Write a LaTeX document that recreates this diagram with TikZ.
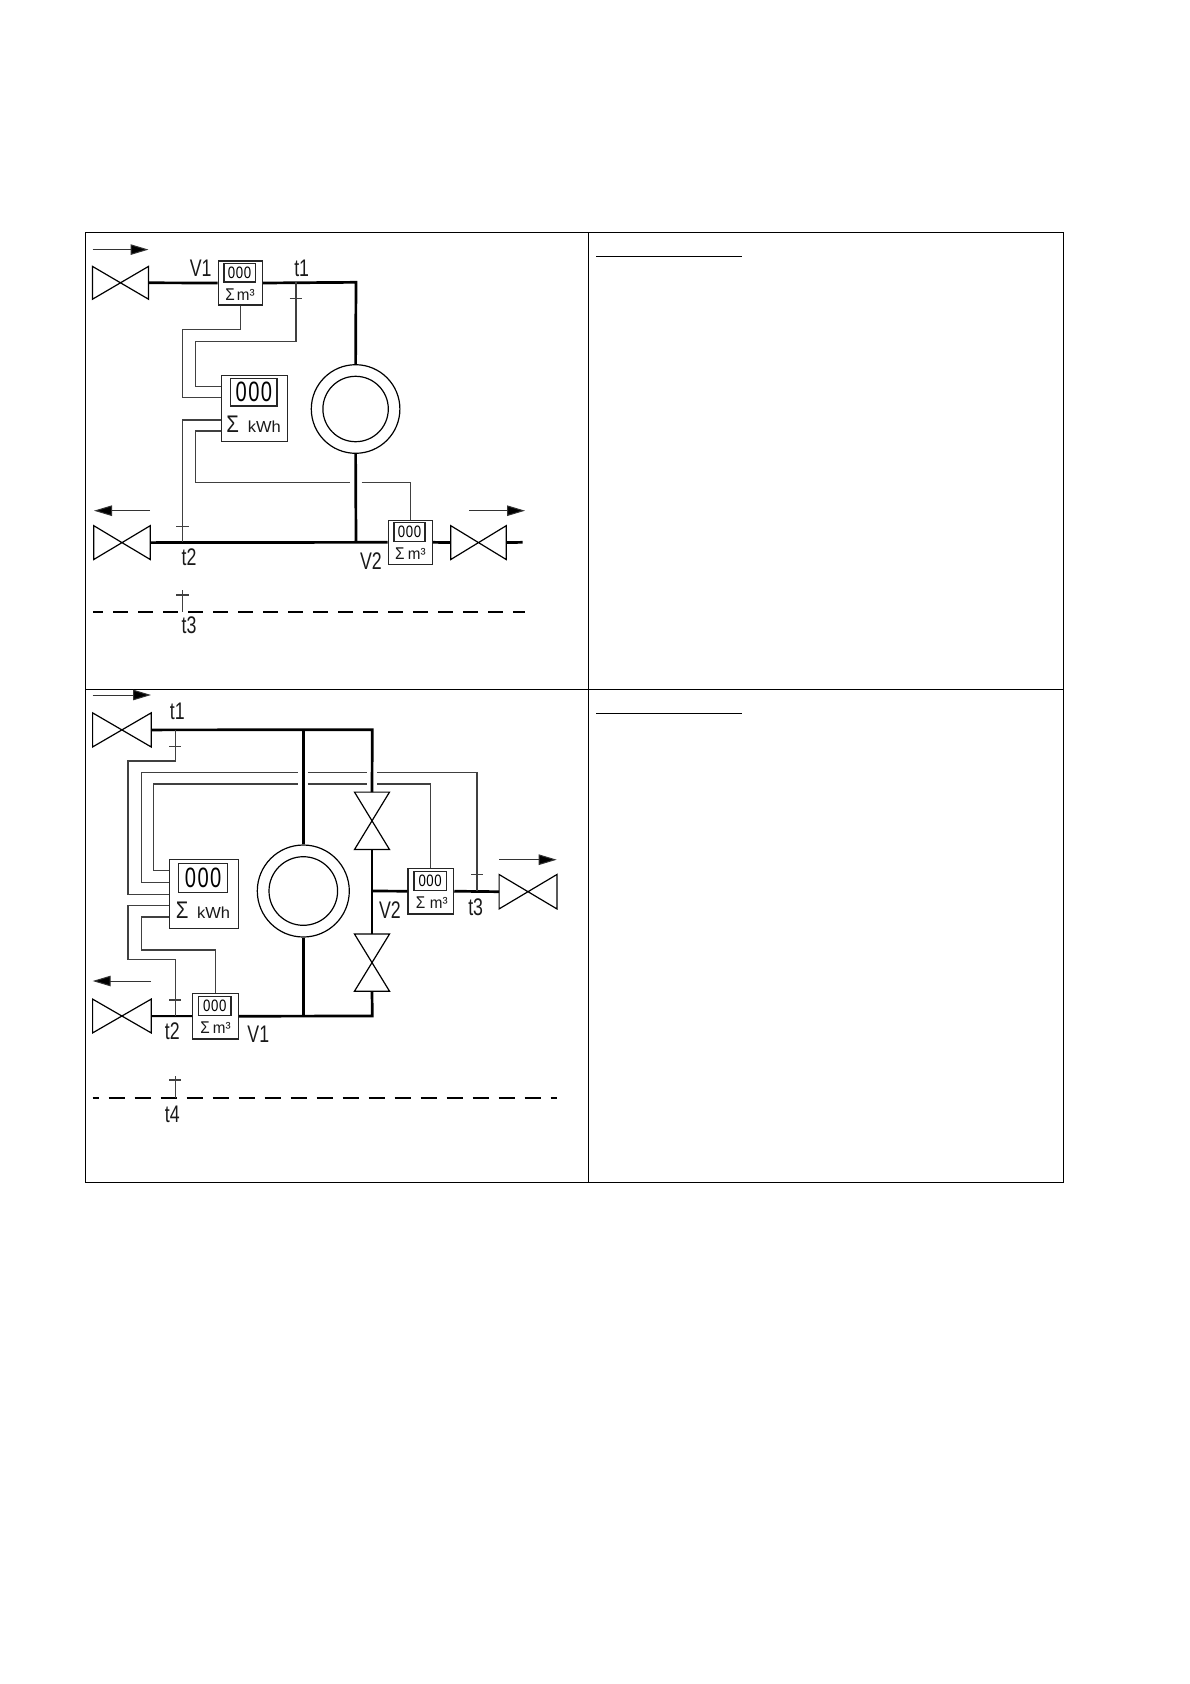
\documentclass[tikz,border=0pt]{standalone}
\usepackage{fontspec}
\setmainfont{Liberation Sans}
\usetikzlibrary{arrows.meta}
\tikzset{
  frame/.style={draw=black,line width=1pt},
  pipe/.style={draw=black,line width=2.7pt},
  pipethin/.style={draw=black,line width=2pt},
  wire/.style={draw=black!75,line width=1.15pt},
  thinbox/.style={draw=black!85,line width=1.2pt,inner sep=0pt,fill=white},
  flow/.style={draw=black!80,line width=1pt,-{Triangle[length=18pt,width=10.5pt,fill=black]}},
  datum/.style={draw=black,line width=1.8pt},
  ring/.style={circle,draw=black,line width=1.2pt,inner sep=0pt},
  lbl/.style={inner sep=0pt,text=black!90},
  valvebody/.style={draw=black,line width=1.2pt,line join=miter}
}
\newcommand{\tagtext}[1]{\fontsize{24}{24}\selectfont\scalebox{.74}[1]{#1}}
\newcommand{\pname}[4]{\node[lbl] (#1) at (#2,#3) {\tagtext{#4}};}
% horizontal valve: name, cx, cy, w, h
\newcommand{\hvalve}[5]{\node[inner sep=0pt,minimum width=#4pt,minimum height=#5pt] (#1) at (#2,#3) {};
  \draw[valvebody] (#1.north west) -- (#1.south east) -- (#1.north east) -- (#1.south west) -- cycle;}
\newcommand{\vvalve}[5]{\node[inner sep=0pt,minimum width=#4pt,minimum height=#5pt] (#1) at (#2,#3) {};
  \draw[valvebody] (#1.north west) -- (#1.south east) -- (#1.south west) -- (#1.north east) -- cycle;}
% small meter: name, cx, cy, w, offset of m3
\newcommand{\meter}[5]{\node[thinbox,minimum width=#4pt,minimum height=#4pt] (#1) at (#2,#3) {};
  \begin{scope}[shift={(#2,#3)}]
  \node[thinbox,minimum width=#4*.71pt,minimum height=#4*.42pt,line width=1.3pt] (#1d) at (-.7,-10.3)
    {\fontsize{16.5}{16.5}\selectfont\scalebox{.8}[1]{0\kern.8pt 0\kern.8pt 0}};
  \node[lbl] (#1s) at (-10.3,11.8) {\fontsize{17}{17}\selectfont\scalebox{.9}[1]{Σ}};
  \node[lbl] (#1u) at (#5,12) {\fontsize{16}{16}\selectfont\scalebox{.95}[1]{m³}};
  \end{scope}}
% energy meter: name, cx, cy, w
\newcommand{\emeter}[4]{\node[thinbox,minimum width=#4pt,minimum height=#4pt] (#1) at (#2,#3) {};
  \begin{scope}[shift={(#2,#3)}]
  \node[thinbox,minimum width=#4*.705pt,minimum height=#4*.42pt] (#1d) at (-.6,-16)
    {\fontsize{28}{28}\selectfont\scalebox{.72}[1]{0\kern2pt 0\kern2pt 0}};
  \node[lbl] (#1s) at (-21.7,16.2) {\fontsize{24}{24}\selectfont\scalebox{.85}[1]{Σ}};
  \node[lbl] (#1u) at (9.8,18.6) {\fontsize{16}{16}\selectfont\scalebox{1.03}[1]{kWh}};
  \end{scope}}
\begin{document}
\begin{tikzpicture}[x=1pt,y=-1pt]
\useasboundingbox (0,0) rectangle (1190,1684);
% table
\coordinate (tl) at (85.5,232);
\coordinate (br) at (1063.3,1182);
\coordinate (vt) at (588,232);
\coordinate (vb) at (588,1182);
\coordinate (hl) at (85.5,689.5);
\coordinate (hr) at (1063.3,689.5);
\draw[frame] (tl) rectangle (br);
\draw[frame] (vt) -- (vb);
\draw[frame] (hl) -- (hr);
\coordinate (ua) at (596,256.3); \coordinate (ub) at (742,256.3);
\coordinate (uc) at (596,713.8); \coordinate (ud) at (742,713.8);
\draw[frame] (ua) -- (ub);
\draw[frame] (uc) -- (ud);

% ---------- upper diagram ----------
\hvalve{va}{120.5}{282.8}{55.6}{32.4}
\hvalve{vb1}{122}{542.6}{56}{33.4}
\hvalve{vc}{478.5}{542.6}{55}{33.4}
\meter{ma}{240.3}{283}{44}{5.4}
\meter{mb}{410.2}{542.3}{44}{6.5}
\emeter{ka}{254.5}{408.3}{65.6}
\node[ring,minimum size=88.6pt] (ca) at (355.6,409) {};
\node[ring,minimum size=65.4pt] (cai) at (355.6,409) {};
\coordinate (ja) at (356,282.3);
\coordinate (jb) at (356,542.3);
\coordinate (ta) at (296,282.3);
\coordinate (tb) at (182.3,542.3);
\coordinate (vcend) at (522.7,542.3);
\draw[pipe] (va.east) -- (ma.west);
\draw[pipe,line join=miter] (ma.east) -- (ja) -- (ca.north);
\draw[pipe] (ca.south) -- (jb);
\draw[pipe] (vb1.east) -- (mb.west);
\draw[pipe] (mb.east) -- (vc.west);
\draw[pipe] (vc.east) -- (vcend);
% wires upper
\draw[wire] (ma.south) |- (182.3,329.7) |- (ka.west |- 0,397.7);
\draw[wire] (ta) |- (195.3,341.7) |- (ka.west |- 0,386.3);
\draw[wire] (ka.west |- 0,420) -| (tb);
\coordinate (gapa) at (350,482.3);
\coordinate (gapb) at (361.7,482.3);
\draw[wire] (ka.west |- 0,431) -| (195.3,482.3) -- (gapa);
\draw[wire] (gapb) -| (mb.north);
\draw[wire] (ta) ++(-6.3,16) -- ++(12.6,0);
\draw[wire] (tb) ++(-6.2,-15.6) -- ++(12.4,0);
% arrows upper
\coordinate (aa) at (92.7,249.6); \coordinate (ab) at (148.5,249.6);
\coordinate (ac) at (150,510.7); \coordinate (ad) at (94,510.7);
\coordinate (ae) at (469.3,510.7); \coordinate (af) at (525,510.7);
\draw[flow] (aa) -- (ab);
\draw[flow] (ac) -- (ad);
\draw[flow] (ae) -- (af);
% ambient upper
\coordinate (da) at (93.3,611.7); \coordinate (db) at (525,611.7);
\coordinate (tc) at (182.3,611.7);
\draw[datum,dash pattern=on 15pt off 10pt,dash phase=5pt] (da) -- (db);
\draw[wire] (tc) -- ++(0,-21.7);
\draw[wire] (tc) ++(-6.2,-16.7) -- ++(12.4,0);
\pname{lva}{200.7}{268.3}{V1}
\pname{lta}{301.7}{268}{t1}
\pname{ltb}{189}{557}{t2}
\pname{lvb}{371}{560.7}{V2}
\pname{ltc}{189}{625.7}{t3}

% ---------- lower diagram ----------
\hvalve{vd}{121.9}{729.9}{58.2}{33.7}
\hvalve{ve}{121.9}{1016}{58.2}{33.4}
\hvalve{vf}{528}{891.7}{57.4}{34}
\vvalve{vg}{372}{820.8}{34.6}{57}
\vvalve{vh}{372}{962.6}{34.6}{56.7}
\meter{mc}{215.5}{1016.2}{45.6}{6.2}
\meter{md}{430.85}{891.2}{45.6}{8}
\emeter{kb}{203.8}{894}{69}
\node[ring,minimum size=92pt] (cb) at (303.3,891) {};
\node[ring,minimum size=68.6pt] (cbi) at (303.3,891) {};
\coordinate (jc) at (303.3,729.7);
\coordinate (jd) at (372.3,729.7);
\coordinate (je) at (303.3,1016);
\coordinate (jf) at (372.3,1016);
\coordinate (jg) at (372.3,891);
\coordinate (te) at (175.3,729.7);
\coordinate (tf) at (175.3,1016);
\coordinate (tg) at (477,891);
\draw[pipe,line join=miter] (vd.east) -- (jd) -- (vg.north);
\draw[pipe] (jc) -- (cb.north);
\draw[pipe] (cb.south) -- (je);
\draw[pipe] (vg.south) -- (vh.north);
\draw[pipe,line join=miter] (vh.south) -- (jf) -- (mc.east);
\draw[pipethin] (ve.east) -- (mc.west);
\draw[pipe] (jg) -- (md.west);
\draw[pipe] (md.east) -- (vf.west);
% wires lower
\draw[wire] (kb.west |- 0,894.3) -| (128,761) -| (te);
\draw[wire] (kb.west |- 0,905.7) -| (128,959.3) -| (tf);
\draw[wire] (kb.west |- 0,917) -| (141.3,950) -| (mc.north);
\coordinate (ga) at (298.3,772.7); \coordinate (gb) at (307.8,772.7);
\coordinate (gc) at (367.3,772.7); \coordinate (gd) at (377,772.7);
\coordinate (ge) at (298.3,784); \coordinate (gf) at (307.8,784);
\coordinate (gg) at (367.3,784); \coordinate (gh) at (377,784);
\draw[wire] (kb.west |- 0,882.7) -| (141.3,772.7) -- (ga);
\draw[wire] (gb) -- (gc);
\draw[wire] (gd) -| (tg);
\draw[wire] (kb.west |- 0,870.7) -| (153.7,784) -- (ge);
\draw[wire] (gf) -- (gg);
\draw[wire] (gh) -| (md.north);
\draw[wire] (te) ++(-6,17) -- ++(12,0);
\draw[wire] (tf) ++(-6,-16) -- ++(12,0);
\draw[wire] (tg) ++(-6,-16.3) -- ++(12,0);
% arrows lower
\coordinate (ag) at (92.7,695); \coordinate (ah) at (151,695);
\coordinate (ai) at (151,981); \coordinate (aj) at (92.7,981);
\coordinate (ak) at (499.3,859.7); \coordinate (al) at (556.7,859.7);
\draw[flow] (ag) -- (ah);
\draw[flow] (ai) -- (aj);
\draw[flow] (ak) -- (al);
% ambient lower
\coordinate (dc) at (92.7,1097.7); \coordinate (dd) at (556.5,1097.7);
\coordinate (th) at (175.3,1097.7);
\draw[datum,dash pattern=on 16pt off 10pt,dash phase=10pt] (dc) -- (dd);
\draw[wire] (th) -- ++(0,-22);
\draw[wire] (th) ++(-6,-17.7) -- ++(12,0);
\pname{ltd}{177.3}{711.7}{t1}
\pname{lte}{172.3}{1031.7}{t2}
\pname{lvc}{258.3}{1034}{V1}
\pname{lvd}{390}{910}{V2}
\pname{ltf}{475.7}{907}{t3}
\pname{ltg}{172.3}{1114.3}{t4}
\end{tikzpicture}
\end{document}
